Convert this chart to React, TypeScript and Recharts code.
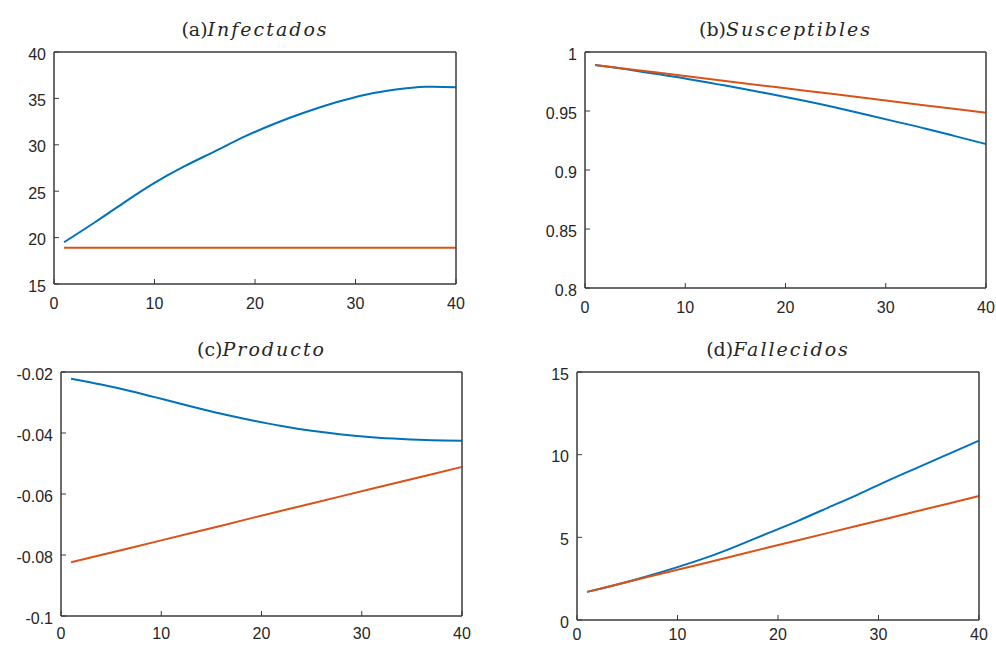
import React from 'react';
import { LineChart, Line, XAxis, YAxis, ReferenceArea } from 'recharts';

// sample positions along the horizontal axis
const steps = [1, 4, 7, 10, 13, 16, 19, 22, 25, 28, 31, 34, 37, 40];
const xTicks = [0, 10, 20, 30, 40];

// (a) Infectados
const infectadosModel = [19.5, 21.6, 23.8, 25.9, 27.7, 29.3, 30.9, 32.3, 33.5, 34.55, 35.4, 35.95, 36.25, 36.2];
const infectadosBase = [18.9, 18.9, 18.9, 18.9, 18.9, 18.9, 18.9, 18.9, 18.9, 18.9, 18.9, 18.9, 18.9, 18.9];
const infectadosTicks = [15, 20, 25, 30, 35, 40];

// (b) Susceptibles
const susceptiblesModel = [0.989, 0.9855, 0.9815, 0.9775, 0.973, 0.9685, 0.9635, 0.9585, 0.953, 0.947, 0.941, 0.935, 0.9285, 0.922];
const susceptiblesBase = [0.989, 0.9859, 0.9828, 0.9797, 0.9765, 0.9734, 0.9703, 0.9672, 0.9641, 0.961, 0.9578, 0.9547, 0.9516, 0.9485];
const susceptiblesTicks = [0.8, 0.85, 0.9, 0.95, 1];

// (c) Producto
const productoModel = [-0.0222, -0.0241, -0.0263, -0.0288, -0.0313, -0.0337, -0.0358, -0.0377, -0.0393, -0.0405, -0.0414, -0.042, -0.0424, -0.0425];
const productoBase = [-0.0824, -0.08, -0.0776, -0.0752, -0.0728, -0.0704, -0.0679, -0.0655, -0.0631, -0.0607, -0.0583, -0.0559, -0.0535, -0.0511];
const productoTicks = [-0.1, -0.08, -0.06, -0.04, -0.02];

// (d) Fallecidos
const fallecidosModel = [1.7, 2.15, 2.65, 3.2, 3.8, 4.5, 5.25, 6.0, 6.8, 7.6, 8.45, 9.25, 10.05, 10.85];
const fallecidosBase = [1.7, 2.15, 2.6, 3.04, 3.48, 3.93, 4.38, 4.82, 5.27, 5.71, 6.16, 6.61, 7.05, 7.5];
const fallecidosTicks = [0, 5, 10, 15];

const BLUE = '#0072BD';
const ORANGE = '#D95319';
const AXIS = '#3a3a3a';
const TEXT = '#262626';

const tickStyle = { fontSize: 16, fill: TEXT, fontFamily: '"Liberation Sans", Arial, sans-serif' };

type Rect = { x0: number; x1: number; y0: number; y1: number };

interface PanelProps {
  letter: string;
  name: string;
  model: number[];
  base: number[];
  yTicks: number[];
  left: number;
  top: number;
  width: number;
  height: number;
  plot: Rect;
  xGap?: number;
}

function Panel({ letter, name, model, base, yTicks, left, top, width, height, plot, xGap = 19 }: PanelProps) {
  const data = steps.map((x, i) => ({ x, model: model[i], base: base[i] }));
  const yMin = yTicks[0];
  const yMax = yTicks[yTicks.length - 1];
  const margin = { top: plot.y0 - top - 1, right: left + width - plot.x1 - 1, left: 0, bottom: 0 };

  return (
    <>
      <div
        style={{
          position: 'absolute',
          left: plot.x0,
          width: plot.x1 - plot.x0,
          top: plot.y0 - 33,
          lineHeight: '20px',
          textAlign: 'center',
          fontFamily: '"DejaVu Serif", "Liberation Serif", serif',
          fontSize: 19,
          color: TEXT,
          whiteSpace: 'nowrap',
        }}
      >
        ({letter})<i style={{ letterSpacing: 2 }}>{name}</i>
      </div>
      <div style={{ position: 'absolute', left, top }}>
        <LineChart width={width} height={height} data={data} margin={margin}>
          <XAxis
            xAxisId="b"
            dataKey="x"
            type="number"
            domain={[0, 40]}
            ticks={xTicks}
            height={top + height - plot.y1}
            tickSize={-5}
            tickMargin={xGap}
            stroke={AXIS}
            tick={tickStyle}
            interval={0}
          />
          <XAxis
            xAxisId="t"
            orientation="top"
            dataKey="x"
            type="number"
            domain={[0, 40]}
            ticks={xTicks}
            height={1}
            tickSize={-5}
            tick={false}
            stroke={AXIS}
          />
          <YAxis
            yAxisId="l"
            type="number"
            domain={[yMin, yMax]}
            ticks={yTicks}
            width={plot.x0 - left}
            tickSize={-5}
            tickMargin={13}
            stroke={AXIS}
            tick={{ ...tickStyle, dy: 2 }}
            interval={0}
            allowDataOverflow
          />
          <YAxis
            yAxisId="r"
            orientation="right"
            type="number"
            domain={[yMin, yMax]}
            ticks={yTicks}
            width={1}
            tickSize={-5}
            tick={false}
            stroke={AXIS}
            allowDataOverflow
          />
          <ReferenceArea
            xAxisId="b"
            yAxisId="l"
            x1={0}
            x2={40}
            y1={yMin}
            y2={yMax}
            fill="none"
            fillOpacity={0}
            stroke={AXIS}
            strokeWidth={1}
            ifOverflow="visible"
          />
          <Line
            xAxisId="b"
            yAxisId="l"
            type="natural"
            dataKey="model"
            stroke={BLUE}
            strokeWidth={2}
            dot={false}
            isAnimationActive={false}
          />
          <Line
            xAxisId="b"
            yAxisId="l"
            type="linear"
            dataKey="base"
            stroke={ORANGE}
            strokeWidth={2}
            dot={false}
            isAnimationActive={false}
          />
        </LineChart>
      </div>
    </>
  );
}

export default function App() {
  return (
    <div style={{ position: 'absolute', left: 0, top: 0, width: 996, height: 645, background: '#fff', overflow: 'hidden' }}>
      <Panel
        letter="a"
        name="Infectados"
        model={infectadosModel}
        base={infectadosBase}
        yTicks={infectadosTicks}
        left={0}
        top={40}
        width={475}
        height={282}
        plot={{ x0: 54, x1: 456, y0: 52, y1: 284 }}
      />
      <Panel
        letter="b"
        name="Susceptibles"
        model={susceptiblesModel}
        base={susceptiblesBase}
        yTicks={susceptiblesTicks}
        left={520}
        top={40}
        width={476}
        height={285}
        plot={{ x0: 585, x1: 986, y0: 52, y1: 288 }}
      />
      <Panel
        letter="c"
        name="Producto"
        model={productoModel}
        base={productoBase}
        yTicks={productoTicks}
        left={0}
        top={360}
        width={480}
        height={285}
        plot={{ x0: 61, x1: 462, y0: 372, y1: 616 }}
        xGap={17}
      />
      <Panel
        letter="d"
        name="Fallecidos"
        model={fallecidosModel}
        base={fallecidosBase}
        yTicks={fallecidosTicks}
        left={520}
        top={360}
        width={476}
        height={285}
        plot={{ x0: 577, x1: 979, y0: 372, y1: 620 }}
        xGap={14}
      />
    </div>
  );
}
